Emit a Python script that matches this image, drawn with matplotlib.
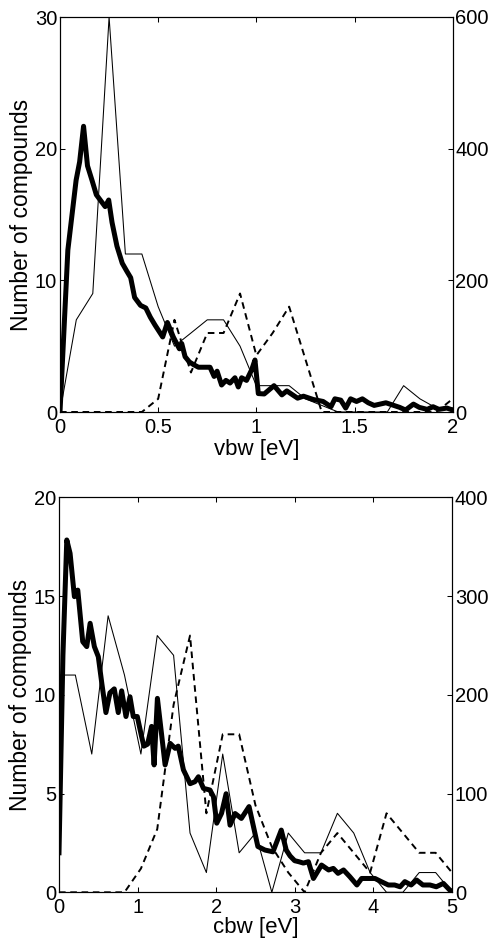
import matplotlib
matplotlib.use("Agg")
import matplotlib.pyplot as plt
import numpy as np

plt.rcParams['font.family'] = ['Liberation Sans', 'DejaVu Sans']

# ---------------- top panel (vbw) ----------------
vbw_grid = [0.0, 0.083, 0.167, 0.25, 0.333, 0.417, 0.5, 0.583, 0.667, 0.75, 0.833, 0.917,
            1.0, 1.083, 1.167, 1.25, 1.333, 1.417, 1.5, 1.583, 1.667, 1.75, 1.833, 1.917, 2.0]
vbw_thin = [0, 7, 9, 30, 12, 12, 8, 5, 6, 7, 7, 5,
            2, 2, 2, 1, 0.5, 0, 0, 0, 0, 2, 1, 0.3, 0.3]
vbw_dash = [0, 0, 0, 0, 0, 0, 1, 7, 3, 6, 6, 9,
            4.3, 6, 8, 4, 0, 0, 0, 0, 0, 0, 0, 0, 1]

vbw_thick_x = [0, 0.04, 0.082, 0.10, 0.12, 0.14, 0.163, 0.185, 0.205, 0.23, 0.248, 0.265,
               0.29, 0.317, 0.34, 0.36, 0.38, 0.41, 0.437, 0.46, 0.484, 0.523, 0.547, 0.577,
               0.608, 0.62, 0.637, 0.659, 0.68, 0.705, 0.74, 0.764, 0.785, 0.80, 0.823, 0.845,
               0.866, 0.891, 0.908, 0.925, 0.95, 0.976, 0.993, 1.01, 1.04, 1.09, 1.13, 1.155,
               1.21, 1.24, 1.29, 1.34, 1.38, 1.40, 1.43, 1.455, 1.48, 1.51, 1.54, 1.57,
               1.60, 1.63, 1.66, 1.70, 1.73, 1.76, 1.80, 1.83, 1.87, 1.90, 1.93, 1.97, 2.0]
vbw_thick_y = [0, 12.3, 17.6, 19, 21.7, 18.7, 17.6, 16.5, 16.1, 15.6, 16.1, 14.4,
               12.6, 11.3, 10.7, 10.2, 8.7, 8.1, 7.9, 7.2, 6.6, 5.7, 6.8, 5.7,
               4.8, 5.2, 4.2, 3.8, 3.6, 3.4, 3.4, 3.4, 2.7, 3.1, 2.05, 2.4,
               2.2, 2.6, 1.9, 2.6, 2.4, 3.2, 3.95, 1.4, 1.37, 2.0, 1.3, 1.6,
               1.05, 1.2, 0.95, 0.8, 0.4, 1.0, 0.9, 0.3, 1.0, 0.8, 1.0, 0.7,
               0.5, 0.6, 0.7, 0.5, 0.35, 0.15, 0.6, 0.35, 0.2, 0.4, 0.2, 0.3, 0.15]

# ---------------- bottom panel (cbw) ----------------
cbw_grid = [0.0, 0.208, 0.417, 0.625, 0.833, 1.042, 1.25, 1.458, 1.667, 1.875, 2.083, 2.292,
            2.5, 2.708, 2.917, 3.125, 3.333, 3.542, 3.75, 3.958, 4.167, 4.375, 4.583, 4.792, 5.0]
cbw_thin = [11, 11, 7, 14, 11, 7, 13, 12, 3, 1, 7, 2,
            3, 0, 3, 2, 2, 4, 3, 1, 0, 0, 1, 1, 0]
cbw_dash = [0, 0, 0, 0, 0, 1.2, 3.2, 9.5, 13, 4, 8, 8,
            4.4, 2.3, 1, 0, 2, 3, 2, 1, 4, 3, 2, 2, 1]

cbw_thick_x = [0, 0.05, 0.099, 0.141, 0.196, 0.239, 0.302, 0.353, 0.396, 0.45, 0.5, 0.544,
               0.597, 0.648, 0.703, 0.754, 0.797, 0.852, 0.903, 0.945, 0.996, 1.05, 1.08, 1.127,
               1.178, 1.21, 1.252, 1.35, 1.414, 1.477, 1.517, 1.583, 1.668, 1.73, 1.774, 1.838,
               1.92, 1.965, 2.007, 2.068, 2.126, 2.176, 2.24, 2.32, 2.418, 2.53, 2.62, 2.722,
               2.828, 2.891, 2.94, 2.998, 3.05, 3.109, 3.173, 3.237, 3.34, 3.43, 3.49, 3.55,
               3.62, 3.70, 3.79, 3.85, 3.93, 4.02, 4.10, 4.19, 4.27, 4.34, 4.40, 4.48,
               4.55, 4.63, 4.72, 4.80, 4.89, 4.97, 5.0]
cbw_thick_y = [2, 12, 17.84, 17.16, 14.97, 15.3, 12.69, 12.44, 13.62, 12.44, 11.93, 10.6,
               9.1, 10.1, 10.3, 9.1, 10.2, 8.9, 9.9, 8.9, 8.9, 7.9, 7.4, 7.5,
               8.4, 6.45, 9.82, 6.45, 7.54, 7.29, 7.4, 6.2, 5.5, 5.6, 5.85, 5.26,
               5.18, 4.84, 3.5, 4.0, 4.99, 3.4, 3.99, 3.74, 4.34, 2.32, 2.14, 2.05,
               3.15, 2.14, 1.84, 1.6, 1.55, 1.48, 1.55, 0.7, 1.38, 1.13, 1.21, 0.96,
               1.13, 0.79, 0.37, 0.7, 0.7, 0.7, 0.54, 0.37, 0.37, 0.28, 0.54, 0.37,
               0.62, 0.37, 0.37, 0.28, 0.45, 0.12, 0.05]

panels = [
    dict(rect=[60/490, 1-412/939, 392.7/490, 395/939], xlim=(0, 2), ylim=(0, 30), rlim=(0, 600),
         xticks=[0, 0.5, 1, 1.5, 2], xticklabels=["0", "0.5", "1", "1.5", "2"],
         yticks=[0, 10, 20, 30], rticks=[0, 200, 400, 600], xlabel="vbw [eV]",
         grid=vbw_grid, thin=vbw_thin, dash=vbw_dash, tx=vbw_thick_x, ty=vbw_thick_y,
         xlab_y=-43/395),
    dict(rect=[59/490, 1-892.3/939, 393/490, 395/939], xlim=(0, 5), ylim=(0, 20), rlim=(0, 400),
         xticks=[0, 1, 2, 3, 4, 5], xticklabels=["0", "1", "2", "3", "4", "5"],
         yticks=[0, 5, 10, 15, 20], rticks=[0, 100, 200, 300, 400], xlabel="cbw [eV]",
         grid=cbw_grid, thin=cbw_thin, dash=cbw_dash, tx=cbw_thick_x, ty=cbw_thick_y,
         xlab_y=-41/395),
]

fig = plt.figure(figsize=(4.9, 9.39), dpi=100)
TS = 14.5
for p in panels:
    ax = fig.add_axes(p["rect"])
    ax.plot(p["grid"], p["thin"], color="black", lw=0.75, zorder=2)
    ax.plot(p["grid"], p["dash"], color="black", lw=1.4, ls=(0, (3.4, 2.4)), zorder=2)
    ax.plot(p["tx"], p["ty"], color="black", lw=3.6, zorder=3, solid_joinstyle="round")
    ax.set_xlim(*p["xlim"])
    ax.set_ylim(*p["ylim"])
    ax.set_xticks(p["xticks"])
    ax.set_xticklabels(p["xticklabels"])
    ax.set_yticks(p["yticks"])
    ax.tick_params(axis="x", direction="in", top=True, length=3.5, width=0.75, pad=4, labelsize=TS)
    ax.tick_params(axis="y", direction="in", right=False, length=3.5, width=0.75, pad=2, labelsize=TS)
    for s in ax.spines.values():
        s.set_linewidth(0.8)
    ax.set_ylabel("Number of compounds", fontsize=16.5)
    ax.yaxis.set_label_coords(-0.068, 0.5)
    ax.set_xlabel(p["xlabel"], fontsize=16, va="baseline")
    ax.xaxis.set_label_coords(0.5, p["xlab_y"])
    ax2 = ax.twinx()
    ax2.set_ylim(*p["rlim"])
    ax2.set_yticks(p["rticks"])
    ax2.tick_params(axis="y", direction="in", length=3.5, width=0.75, pad=2, labelsize=TS)
    for s in ax2.spines.values():
        s.set_linewidth(0.8)

fig.savefig("out.png", dpi=100)
